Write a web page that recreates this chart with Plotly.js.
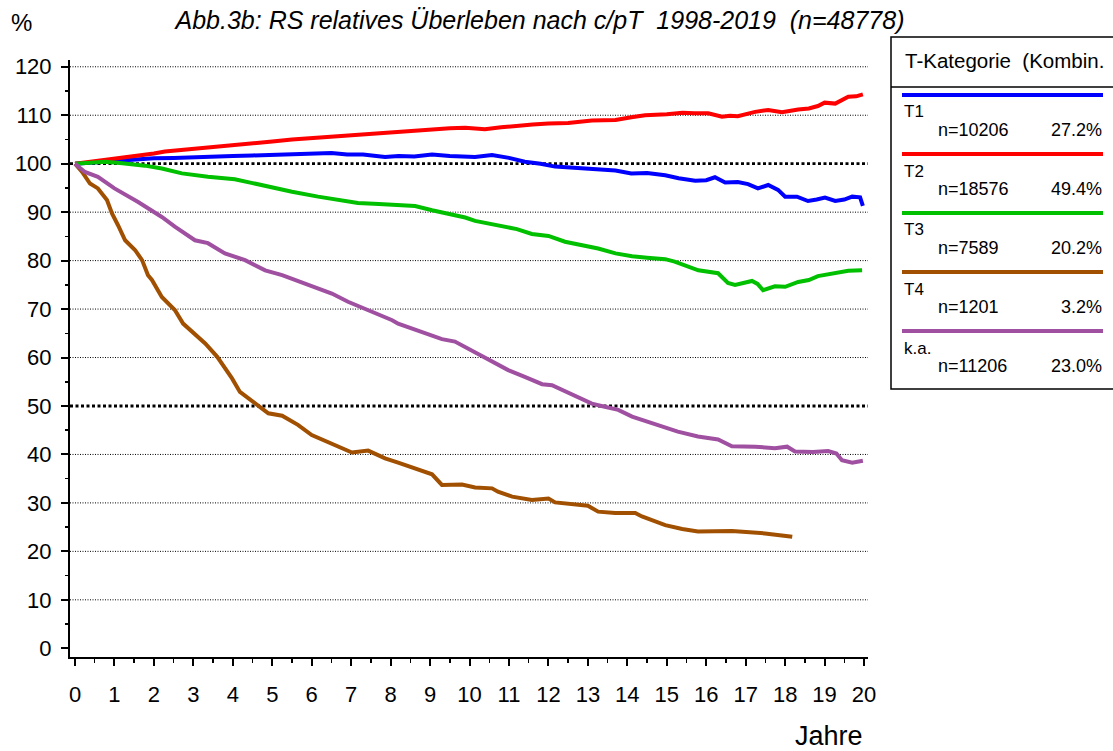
<!DOCTYPE html>
<html><head><meta charset="utf-8">
<script src="https://cdn.plot.ly/plotly-3.0.1.min.js"></script>
<style>html,body{margin:0;padding:0;background:#fff}#chart{width:1113px;height:751px}</style>
</head><body><div id="chart"></div>
<script>
// ---- data ----
const t1_t = [0,0.5,1,1.5,2,2.5,3,3.5,4,4.5,5,5.5,6,6.5,6.9,7.3,7.86,8.2,8.6,9.05,9.5,10.14,10.57,11.0,11.4,11.8,12.17,12.6,13.26,13.7,14.1,14.5,14.96,15.3,15.72,16.0,16.22,16.48,16.8,17.06,17.31,17.57,17.82,18.0,18.3,18.58,18.8,19.01,19.27,19.5,19.7,19.9,19.97];
const t1_y = [100,100.3,100.7,100.9,101.1,101.2,101.4,101.5,101.6,101.7,101.8,101.9,102.0,102.2,101.9,101.9,101.4,101.6,101.5,101.9,101.6,101.4,101.8,101.2,100.4,100.0,99.4,99.2,98.8,98.6,98.0,98.1,97.6,97.0,96.5,96.6,97.2,96.1,96.2,95.8,94.9,95.6,94.6,93.2,93.2,92.3,92.6,93.0,92.3,92.6,93.2,93.05,91.3];

const t2_t = [0,0.5,1,1.5,2,2.28,3,3.5,4,4.5,5,5.5,6,6.5,7,7.5,8,8.5,9.05,9.5,9.89,10.39,10.8,11.15,11.6,12.0,12.5,13.1,13.7,14.1,14.45,15.0,15.4,15.7,16.05,16.4,16.6,16.8,17.24,17.57,17.92,18.33,18.6,18.83,19.0,19.27,19.6,19.8,19.97];
const t2_y = [100,100.5,101.0,101.6,102.1,102.5,103.0,103.4,103.8,104.2,104.6,105.0,105.3,105.7,106.0,106.3,106.5,106.8,107.1,107.3,107.4,107.1,107.5,107.8,108.1,108.3,108.4,108.9,109.0,109.6,110.0,110.2,110.5,110.4,110.4,109.7,109.9,109.8,110.7,111.1,110.6,111.2,111.4,111.9,112.6,112.4,113.8,113.9,114.3];

const t3_t = [0,0.5,0.76,1.2,1.77,2.2,2.71,3.37,4.05,4.5,4.82,5.5,6.16,6.6,7.17,7.7,8.19,8.62,9.05,9.5,9.89,10.14,10.72,11.2,11.58,12.0,12.42,12.8,13.26,13.7,14.12,14.5,14.96,15.2,15.5,15.8,16.3,16.55,16.73,17.16,17.3,17.44,17.74,18.0,18.33,18.6,18.83,19.27,19.6,19.95];
const t3_y = [100,100.2,100.4,100.1,99.6,99.0,98.0,97.3,96.8,96.0,95.4,94.2,93.2,92.6,91.9,91.7,91.5,91.25,90.4,89.7,88.9,88.2,87.3,86.5,85.5,85.1,83.9,83.3,82.5,81.5,80.9,80.6,80.3,79.8,78.8,78.0,77.4,75.4,75.0,75.8,75.2,73.9,74.7,74.6,75.6,76.0,76.8,77.4,77.9,78.0];

const t4_t = [0,0.18,0.38,0.58,0.81,0.94,1.09,1.27,1.52,1.7,1.85,1.95,2.2,2.53,2.74,3.0,3.3,3.6,3.98,4.18,4.39,4.9,5.25,5.65,6.0,6.51,7.02,7.43,7.86,8.19,8.62,9.05,9.3,9.81,10.14,10.57,10.72,11.08,11.58,12.0,12.17,13.0,13.26,13.69,14.2,14.37,14.96,15.39,15.79,16.65,17.49,18.18];
const t4_y = [100,98.3,95.9,94.9,92.5,89.7,87.3,84.2,82.2,80.1,77.0,76.0,72.5,69.8,67.0,65.2,62.9,60.2,55.7,52.9,51.6,48.5,48.0,46.1,44.0,42.3,40.4,40.8,39.2,38.3,37.1,35.9,33.7,33.8,33.2,33.0,32.3,31.3,30.6,30.9,30.1,29.4,28.2,27.9,27.9,27.2,25.4,24.6,24.1,24.2,23.7,23.0];

const ka_t = [0,0.25,0.58,1.0,1.6,2.2,2.53,3.04,3.37,3.8,4.31,4.82,5.25,5.65,6.1,6.51,6.92,7.35,7.7,8.04,8.19,8.6,9.0,9.3,9.63,9.89,10.14,10.5,10.98,11.4,11.84,12.09,12.5,13.1,13.4,13.77,14.12,14.63,15.28,15.79,16.3,16.65,17.24,17.74,18.05,18.25,18.7,19.09,19.3,19.44,19.7,19.97];
const ka_y = [100,98.3,97.3,94.9,92.1,89.0,87.0,84.2,83.6,81.5,80.1,78.0,77.0,75.8,74.6,73.2,71.5,70.1,69.0,67.7,67.0,65.8,64.6,63.8,63.3,62.2,61.0,59.6,57.4,56.0,54.5,54.3,52.8,50.5,49.9,49.2,47.8,46.4,44.7,43.7,43.1,41.7,41.6,41.3,41.6,40.6,40.5,40.7,40.2,38.8,38.3,38.7];

const seriesNames = ['T1','T2','T3','T4','k.a.'];
const seriesN = ['n=10206','n=18576','n=7589','n=1201','n=11206'];
const seriesPct = ['27.2%','49.4%','20.2%','3.2%','23.0%'];
const seriesColors = ['#0000ff','#ff0000','#00c000','#a05000','#a050a0'];
const xTicks = [0,1,2,3,4,5,6,7,8,9,10,11,12,13,14,15,16,17,18,19,20];
const yTicks = [0,10,20,30,40,50,60,70,80,90,100,110,120];
const gridVals = [10,20,30,40,50,60,70,80,90,100,110,120];
const boldGrid = [50,100];

const NB = '\u00a0';
const titleText = 'Abb.3b: RS relatives Überleben nach c/pT ' + NB + '1998-2019 ' + NB + '(n=48778)';
const legendHeader = 'T-Kategorie ' + NB + '(Kombin.';

// ---- layout geometry ----
const W = 1113, H = 751, L = 70, R = 245, T = 60, B = 94;
const pw = W - L - R, ph = H - T - B;
const px = x => (x - L) / pw;
const py = y => (H - B - y) / ph;
const FONT = 'Liberation Sans, Arial, sans-serif';

const xs = [t1_t, t2_t, t3_t, t4_t, ka_t];
const ys = [t1_y, t2_y, t3_y, t4_y, ka_y];
const traces = seriesNames.map((n, i) => ({
  type: 'scatter', mode: 'lines', name: n, x: xs[i], y: ys[i],
  line: {color: seriesColors[i], width: 4}, showlegend: false, hoverinfo: 'skip'
}));

const shapes = [];
gridVals.forEach(v => {
  const bold = boldGrid.includes(v);
  shapes.push({type: 'line', xref: 'paper', yref: 'y', x0: 0, x1: 1, y0: v, y1: v, layer: 'below',
    line: {color: '#000', width: bold ? 2.8 : 1, dash: bold ? '3px,2.5px' : '1px,1.5px'}});
});
// legend box
shapes.push({type: 'rect', xref: 'paper', yref: 'paper', x0: px(891), x1: px(1130), y0: py(37), y1: py(389),
  line: {color: '#000', width: 1.5}, fillcolor: 'rgba(0,0,0,0)'});
shapes.push({type: 'line', xref: 'paper', yref: 'paper', x0: px(891), x1: px(1130), y0: py(87), y1: py(87),
  line: {color: '#000', width: 1.5}});
const entryTop = 95, entryStep = 59;
seriesNames.forEach((n, i) => {
  const yl = entryTop + i * entryStep;
  shapes.push({type: 'line', xref: 'paper', yref: 'paper', x0: px(902), x1: px(1103), y0: py(yl), y1: py(yl),
    line: {color: seriesColors[i], width: 4}});
});

const annotations = [];
annotations.push({text: legendHeader, xref: 'paper', yref: 'paper', x: px(903), y: py(60), xanchor: 'left', yanchor: 'middle',
  showarrow: false, font: {family: FONT, size: 20.5, color: '#000'}});
seriesNames.forEach((n, i) => {
  const yl = entryTop + i * entryStep;
  annotations.push({text: n, xref: 'paper', yref: 'paper', x: px(902), y: py(yl + 17), xanchor: 'left', yanchor: 'middle',
    showarrow: false, font: {family: FONT, size: 17, color: '#000'}});
  annotations.push({text: seriesN[i], xref: 'paper', yref: 'paper', x: px(936), y: py(yl + 35), xanchor: 'left', yanchor: 'middle',
    showarrow: false, font: {family: FONT, size: 18, color: '#000'}});
  annotations.push({text: seriesPct[i], xref: 'paper', yref: 'paper', x: px(1104), y: py(yl + 35), xanchor: 'right', yanchor: 'middle',
    showarrow: false, font: {family: FONT, size: 18, color: '#000'}});
});
annotations.push({text: '%', xref: 'paper', yref: 'paper', x: px(21), y: py(22), xanchor: 'center', yanchor: 'middle',
  showarrow: false, font: {family: FONT, size: 24, color: '#000'}});
annotations.push({text: 'Jahre', xref: 'paper', yref: 'paper', x: px(829), y: py(736), xanchor: 'center', yanchor: 'middle',
  showarrow: false, font: {family: FONT, size: 27, color: '#000'}});

const layout = {
  width: W, height: H,
  margin: {l: L, r: R, t: T, b: B, pad: 0},
  paper_bgcolor: '#fff', plot_bgcolor: '#fff',
  font: {family: FONT, color: '#000'},
  title: {text: titleText, xref: 'container', yref: 'container', x: 540 / W, y: 1 - 20 / H,
    xanchor: 'center', yanchor: 'middle', font: {family: FONT, size: 25, style: 'italic', color: '#000'}},
  xaxis: {range: [-0.127, 20.1], tickvals: xTicks, ticktext: xTicks.map(String), showgrid: false, zeroline: false,
    showline: true, linecolor: '#000', linewidth: 2, ticks: 'outside', ticklen: 7, tickwidth: 2, tickcolor: '#000',
    ticklabelstandoff: 10, tickfont: {family: FONT, size: 22, color: '#000'},
    minor: {dtick: 0.5, tick0: 0, ticks: 'outside', ticklen: 4, tickwidth: 1.5, tickcolor: '#000', showgrid: false}},
  yaxis: {range: [-1.8, 121.4], tickvals: yTicks, ticktext: yTicks.map(String), showgrid: false, zeroline: false,
    showline: true, linecolor: '#000', linewidth: 2, ticks: 'outside', ticklen: 7, tickwidth: 2, tickcolor: '#000',
    ticklabelstandoff: 5, tickfont: {family: FONT, size: 22, color: '#000'},
    minor: {dtick: 5, tick0: 0, ticks: 'outside', ticklen: 3, tickwidth: 1.5, tickcolor: '#000', showgrid: false}},
  shapes: shapes, annotations: annotations, showlegend: false
};
Plotly.newPlot('chart', traces, layout, {staticPlot: true, displayModeBar: false});
</script></body></html>
